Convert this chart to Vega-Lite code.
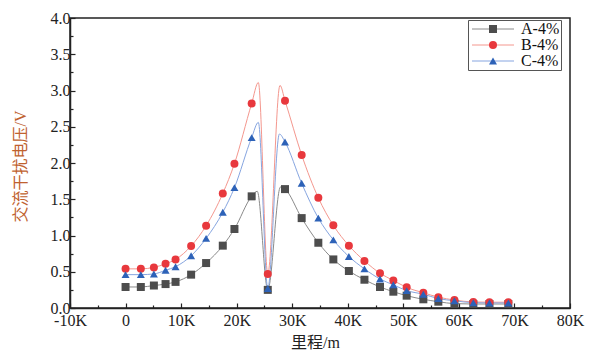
{
  "$schema": "https://vega.github.io/schema/vega-lite/v6.json",
  "autosize": {"type": "none"},
  "width": 500,
  "height": 290,
  "padding": {"left": 70, "top": 18, "right": 22, "bottom": 43},
  "background": "white",
  "config": {
    "view": {"stroke": "#222", "strokeWidth": 1.5},
    "font": "Liberation Serif"
  },
  "data": {
    "values": [
      {"s": "A-4%", "x": 0, "y": 0.29, "m": 1},
      {"s": "A-4%", "x": 2750, "y": 0.29, "m": 1},
      {"s": "A-4%", "x": 5100, "y": 0.31, "m": 1},
      {"s": "A-4%", "x": 7200, "y": 0.33, "m": 1},
      {"s": "A-4%", "x": 9000, "y": 0.36, "m": 1},
      {"s": "A-4%", "x": 11800, "y": 0.46, "m": 1},
      {"s": "A-4%", "x": 14500, "y": 0.62, "m": 1},
      {"s": "A-4%", "x": 17500, "y": 0.86, "m": 1},
      {"s": "A-4%", "x": 19600, "y": 1.09, "m": 1},
      {"s": "A-4%", "x": 22700, "y": 1.54, "m": 1},
      {"s": "A-4%", "x": 23700, "y": 1.61, "m": 0},
      {"s": "A-4%", "x": 25600, "y": 0.25, "m": 1},
      {"s": "A-4%", "x": 27900, "y": 1.67, "m": 0},
      {"s": "A-4%", "x": 28700, "y": 1.64, "m": 1},
      {"s": "A-4%", "x": 31700, "y": 1.24, "m": 1},
      {"s": "A-4%", "x": 34700, "y": 0.90, "m": 1},
      {"s": "A-4%", "x": 37400, "y": 0.67, "m": 1},
      {"s": "A-4%", "x": 40200, "y": 0.51, "m": 1},
      {"s": "A-4%", "x": 43000, "y": 0.39, "m": 1},
      {"s": "A-4%", "x": 45800, "y": 0.29, "m": 1},
      {"s": "A-4%", "x": 48200, "y": 0.225, "m": 1},
      {"s": "A-4%", "x": 50600, "y": 0.17, "m": 1},
      {"s": "A-4%", "x": 53600, "y": 0.12, "m": 1},
      {"s": "A-4%", "x": 56300, "y": 0.087, "m": 1},
      {"s": "A-4%", "x": 59200, "y": 0.06, "m": 1},
      {"s": "A-4%", "x": 62600, "y": 0.055, "m": 1},
      {"s": "A-4%", "x": 65500, "y": 0.055, "m": 1},
      {"s": "A-4%", "x": 68900, "y": 0.055, "m": 1},
      {"s": "B-4%", "x": 0, "y": 0.54, "m": 1},
      {"s": "B-4%", "x": 2750, "y": 0.54, "m": 1},
      {"s": "B-4%", "x": 5100, "y": 0.56, "m": 1},
      {"s": "B-4%", "x": 7200, "y": 0.61, "m": 1},
      {"s": "B-4%", "x": 9000, "y": 0.67, "m": 1},
      {"s": "B-4%", "x": 11800, "y": 0.855, "m": 1},
      {"s": "B-4%", "x": 14500, "y": 1.135, "m": 1},
      {"s": "B-4%", "x": 17500, "y": 1.58, "m": 1},
      {"s": "B-4%", "x": 19600, "y": 1.99, "m": 1},
      {"s": "B-4%", "x": 22700, "y": 2.82, "m": 1},
      {"s": "B-4%", "x": 23900, "y": 3.11, "m": 0},
      {"s": "B-4%", "x": 25600, "y": 0.47, "m": 1},
      {"s": "B-4%", "x": 27800, "y": 3.07, "m": 0},
      {"s": "B-4%", "x": 28700, "y": 2.86, "m": 1},
      {"s": "B-4%", "x": 31700, "y": 2.11, "m": 1},
      {"s": "B-4%", "x": 34700, "y": 1.52, "m": 1},
      {"s": "B-4%", "x": 37400, "y": 1.14, "m": 1},
      {"s": "B-4%", "x": 40200, "y": 0.86, "m": 1},
      {"s": "B-4%", "x": 43000, "y": 0.65, "m": 1},
      {"s": "B-4%", "x": 45800, "y": 0.48, "m": 1},
      {"s": "B-4%", "x": 48200, "y": 0.38, "m": 1},
      {"s": "B-4%", "x": 50600, "y": 0.285, "m": 1},
      {"s": "B-4%", "x": 53600, "y": 0.21, "m": 1},
      {"s": "B-4%", "x": 56300, "y": 0.15, "m": 1},
      {"s": "B-4%", "x": 59200, "y": 0.11, "m": 1},
      {"s": "B-4%", "x": 62600, "y": 0.083, "m": 1},
      {"s": "B-4%", "x": 65500, "y": 0.08, "m": 1},
      {"s": "B-4%", "x": 68900, "y": 0.08, "m": 1},
      {"s": "C-4%", "x": 0, "y": 0.46, "m": 1},
      {"s": "C-4%", "x": 2750, "y": 0.46, "m": 1},
      {"s": "C-4%", "x": 5100, "y": 0.47, "m": 1},
      {"s": "C-4%", "x": 7200, "y": 0.52, "m": 1},
      {"s": "C-4%", "x": 9000, "y": 0.57, "m": 1},
      {"s": "C-4%", "x": 11800, "y": 0.72, "m": 1},
      {"s": "C-4%", "x": 14500, "y": 0.96, "m": 1},
      {"s": "C-4%", "x": 17500, "y": 1.32, "m": 1},
      {"s": "C-4%", "x": 19600, "y": 1.66, "m": 1},
      {"s": "C-4%", "x": 22700, "y": 2.35, "m": 1},
      {"s": "C-4%", "x": 23900, "y": 2.56, "m": 0},
      {"s": "C-4%", "x": 25600, "y": 0.27, "m": 1},
      {"s": "C-4%", "x": 27700, "y": 2.40, "m": 0},
      {"s": "C-4%", "x": 28700, "y": 2.29, "m": 1},
      {"s": "C-4%", "x": 31700, "y": 1.72, "m": 1},
      {"s": "C-4%", "x": 34700, "y": 1.24, "m": 1},
      {"s": "C-4%", "x": 37400, "y": 0.94, "m": 1},
      {"s": "C-4%", "x": 40200, "y": 0.71, "m": 1},
      {"s": "C-4%", "x": 43000, "y": 0.54, "m": 1},
      {"s": "C-4%", "x": 45800, "y": 0.40, "m": 1},
      {"s": "C-4%", "x": 48200, "y": 0.32, "m": 1},
      {"s": "C-4%", "x": 50600, "y": 0.24, "m": 1},
      {"s": "C-4%", "x": 53600, "y": 0.19, "m": 1},
      {"s": "C-4%", "x": 56300, "y": 0.13, "m": 1},
      {"s": "C-4%", "x": 59200, "y": 0.10, "m": 1},
      {"s": "C-4%", "x": 62600, "y": 0.073, "m": 1},
      {"s": "C-4%", "x": 65500, "y": 0.07, "m": 1},
      {"s": "C-4%", "x": 68900, "y": 0.07, "m": 1}
    ]
  },
  "encoding": {
    "x": {
      "field": "x", "type": "quantitative",
      "scale": {"domain": [-10000, 80000], "nice": false, "zero": false},
      "axis": {
        "title": "里程/m",
        "titleFont": "Liberation Serif, Noto Sans CJK SC",
        "titleFontSize": 16, "titleFontWeight": "normal", "titleColor": "#222",
        "titleX": 245, "titleY": 34, "titleBaseline": "middle", "titleAlign": "center",
        "values": [-10000, -5000, 0, 5000, 10000, 15000, 20000, 25000, 30000, 35000, 40000, 45000, 50000, 55000, 60000, 65000, 70000, 75000, 80000],
        "labelExpr": "datum.value % 10000 === 0 ? (datum.value === 0 ? '0' : (datum.value/1000) + 'K') : ''",
        "labelFont": "Liberation Serif", "labelFontSize": 16, "labelColor": "#222",
        "labelOverlap": false, "labelFlush": false, "labelPadding": 9,
        "tickSize": {"condition": {"test": "datum.value % 10000 == 0", "value": -5}, "value": -3},
        "tickColor": "#222", "tickWidth": 1.2,
        "domainColor": "#222", "domainWidth": 1.5, "grid": false
      }
    },
    "y": {
      "field": "y", "type": "quantitative",
      "scale": {"domain": [0, 4], "nice": false},
      "axis": {
        "title": "交流干扰电压/V",
        "titleFont": "Liberation Serif, Noto Sans CJK SC",
        "titleFontSize": 16, "titleFontWeight": "normal", "titleColor": "#c0622f",
        "titleX": -50, "titleY": 148, "titleAlign": "center", "titleBaseline": "middle", "titleAngle": -90,
        "values": [0, 0.25, 0.5, 0.75, 1, 1.25, 1.5, 1.75, 2, 2.25, 2.5, 2.75, 3, 3.25, 3.5, 3.75, 4],
        "labelExpr": "(datum.value * 2) % 1 === 0 ? format(datum.value, '.1f') : ''",
        "labelFont": "Liberation Serif", "labelFontSize": 16, "labelColor": "#222",
        "labelOverlap": false, "labelFlush": false, "labelPadding": 5,
        "tickSize": {"condition": {"test": "round(datum.value * 2) == datum.value * 2", "value": -5}, "value": -3},
        "tickColor": "#222", "tickWidth": 1.2,
        "domainColor": "#222", "domainWidth": 1.5, "grid": false
      }
    }
  },
  "layer": [
    {
      "mark": {"type": "line", "interpolate": "monotone", "strokeWidth": 1},
      "encoding": {
        "stroke": {
          "field": "s", "type": "nominal",
          "scale": {"range": ["#8a8a8a", "#f4978e", "#86a5e0"]},
          "legend": {
            "orient": "none", "legendX": 398, "legendY": 2, "title": null,
            "symbolType": "M-5.25,0H5.25", "symbolSize": 64, "symbolStrokeWidth": 1, "symbolOffset": 16,
            "labelFontSize": 16, "labelOpacity": 0, "labelExpr": "''", "labelOffset": 28,
            "rowPadding": 0, "padding": 1
          }
        }
      }
    },
    {
      "transform": [{"filter": "datum.m == 1"}],
      "mark": {"type": "point", "filled": true, "opacity": 1, "size": 64},
      "encoding": {
        "color": {
          "field": "s", "type": "nominal",
          "scale": {"domain": ["A-4%", "B-4%", "C-4%"], "range": ["#4d4d4d", "#e8383d", "#2d62b8"]},
          "legend": {
            "orient": "none", "legendX": 398, "legendY": 2, "title": null,
            "symbolSize": 64, "symbolOffset": 16, "labelFont": "Liberation Serif", "labelFontSize": 16, "labelColor": "#111",
            "labelExpr": "datum.label + '\u00a0\u00a0'",
            "labelOffset": 20, "rowPadding": 0, "padding": 1, "strokeColor": "#555"
          }
        },
        "shape": {
          "field": "s", "type": "nominal",
          "scale": {"domain": ["A-4%", "B-4%", "C-4%"], "range": ["square", "circle", "triangle-up"]},
          "legend": {
            "orient": "none", "legendX": 398, "legendY": 2, "title": null,
            "symbolSize": 64, "symbolOffset": 16, "labelFont": "Liberation Serif", "labelFontSize": 16, "labelColor": "#111",
            "labelExpr": "datum.label + '\u00a0\u00a0'",
            "labelOffset": 20, "rowPadding": 0, "padding": 1, "strokeColor": "#555"
          }
        }
      }
    }
  ]
}
